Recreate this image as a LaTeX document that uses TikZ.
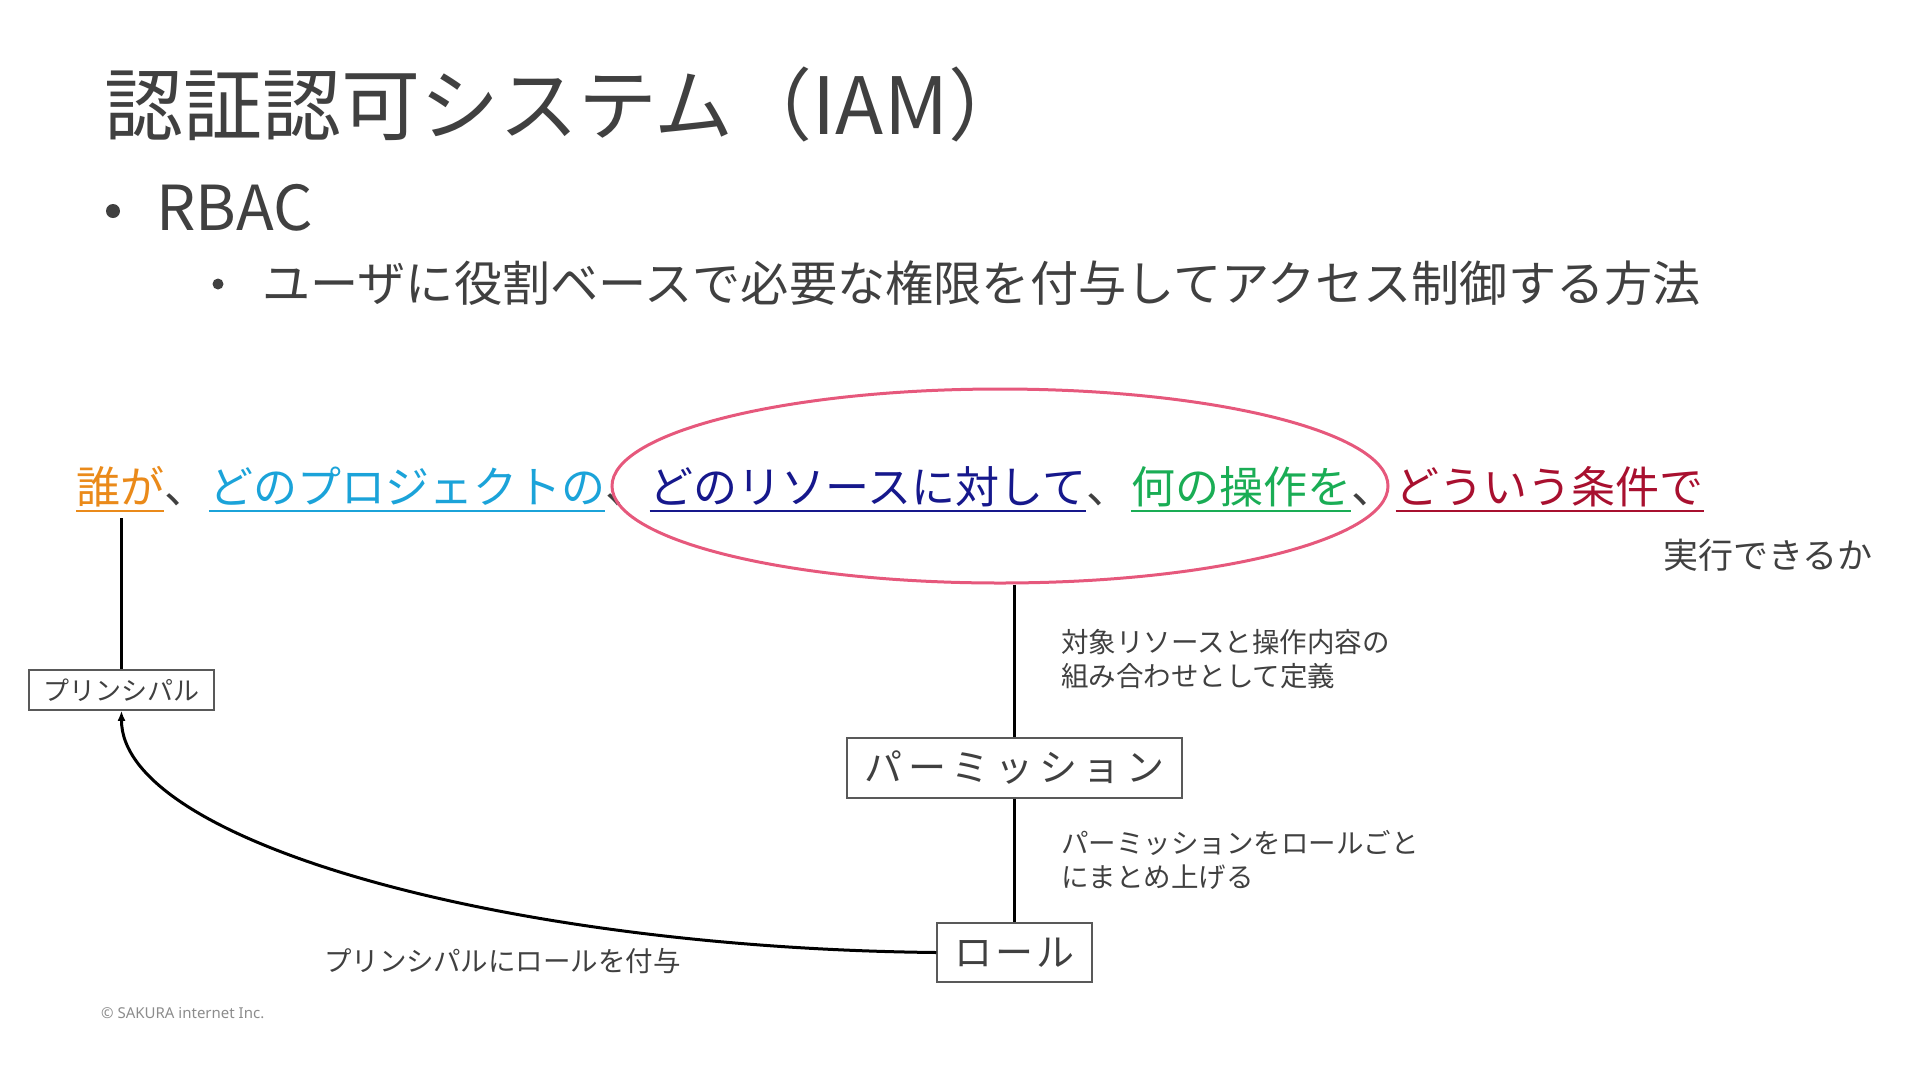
\documentclass[tikz,border=0pt]{standalone}
\usepackage{fontspec}
\usetikzlibrary{shapes.geometric,arrows.meta}
\setmainfont{Noto Sans CJK JP}
\newfontfamily\latinsans{Noto Sans}

\definecolor{ink}{HTML}{404040}
\definecolor{boxline}{HTML}{595959}
\definecolor{cwho}{HTML}{EA8A1A}
\definecolor{cproj}{HTML}{1BA3D9}
\definecolor{cres}{HTML}{16188C}
\definecolor{cact}{HTML}{1AAD55}
\definecolor{ccond}{HTML}{A8102F}
\definecolor{cring}{HTML}{E6587C}

\tikzset{
  phrase/.style={inner sep=0pt, anchor=base west, font=\fontsize{44}{50}\selectfont},
  box/.style={draw=boxline, line width=1.5pt, inner sep=0pt, text=ink},
  note/.style={inner sep=0pt, anchor=west, align=left, text=ink, font=\fontsize{27.5}{34}\selectfont},
  wire/.style={line width=3pt},
}

\begin{document}
\begin{tikzpicture}[x=1pt,y=-1pt]
  \useasboundingbox (0,0) rectangle (1920,1080);
  % heading and bullets
  \node[anchor=west, inner sep=0pt, text=ink, font=\fontsize{79}{90}\selectfont] (title) at (104,104) {認証認可システム（IAM）};
  \fill[ink] (113,211) circle (7);
  \node[anchor=west, inner sep=0pt, text=ink, font=\fontsize{62}{74}\selectfont] (rbac) at (156,208) {RBAC};
  \fill[ink] (218,284) circle (5.5);
  \node[anchor=west, inner sep=0pt, text=ink, font=\fontsize{48.2}{56}\selectfont] (rbacdef) at (262,283) {ユーザに役割ベースで必要な権限を付与してアクセス制御する方法};

  % the question, phrase by phrase
  \node[phrase, text=cwho] (who) at (76,503) {誰が};
  \node[phrase, text=ink] (c1) at (who.base east) {、};
  \node[phrase, text=cproj] (proj) at (c1.base east) {どのプロジェクトの};
  \node[phrase, text=ink] (c2) at (proj.base east) {、};
  \node[phrase, text=cres] (res) at (c2.base east) {どのリソースに対して};
  \node[phrase, text=ink] (c3) at (res.base east) {、};
  \node[phrase, text=cact] (act) at (c3.base east) {何の操作を};
  \node[phrase, text=ink] (c4) at (act.base east) {、};
  \node[phrase, text=ccond] (cond) at (c4.base east) {どういう条件で};
  \foreach \n/\c in {who/cwho,proj/cproj,res/cres,act/cact,cond/ccond}
    \draw[\c, line width=2pt] ([yshift=-8pt]\n.base west) -- ([yshift=-8pt]\n.base east);
  \node[anchor=west, inner sep=0pt, text=ink, font=\fontsize{35}{40}\selectfont] (canq) at (1663,555) {実行できるか};

  \node[draw=cring, line width=3pt, ellipse, minimum width=776pt, minimum height=194pt, inner sep=0pt] (focus) at (1000,486) {};

  % boxes
  \node[box, minimum width=185pt, minimum height=40pt, font=\fontsize{26}{30}\selectfont] (principal) at (121.5,690) {プリンシパル};
  \node[box, minimum width=335pt, minimum height=60pt, font=\fontsize{38}{44}\selectfont\addfontfeature{LetterSpace=15}] (perm) at (1014.5,768) {パーミッション};
  \node[box, minimum width=155pt, minimum height=59pt, font=\fontsize{38}{44}\selectfont\addfontfeature{LetterSpace=8}] (role) at (1014.5,952.5) {ロール};

  \coordinate (whofoot) at ([yshift=-15pt]who.base -| principal.north);
  \draw[wire] (whofoot) -- (principal.north);
  \draw[wire] (perm.north |- focus.south) -- (perm.north);
  \draw[wire] (perm.south) -- (role.north);
  \draw[wire, -{Latex[length=10pt,width=8pt]}] (role.west) .. controls (500,948) and (121,840) .. (principal.south);

  % notes
  \node[note] (permnote) at (1061,659) {対象リソースと操作内容の\\組み合わせとして定義};
  \node[note] (rolenote) at (1061,859.5) {パーミッションをロールごと\\にまとめ上げる};
  \node[note] (grantnote) at (324,961) {プリンシパルにロールを付与};

  \node[anchor=west, inner sep=0pt, text=black!45, font=\latinsans\fontsize{15}{18}\selectfont] (copy) at (101,1013) {© SAKURA internet Inc.};
\end{tikzpicture}
\end{document}
